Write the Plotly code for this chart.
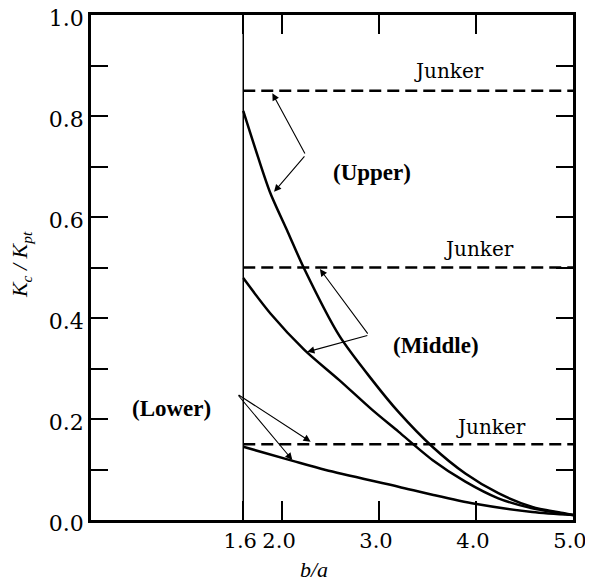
import plotly.graph_objects as go

# ---- data ----
upper_x = [1.6, 1.75, 1.88, 2.06, 2.23, 2.59, 2.93, 3.20, 3.55, 3.89, 4.23, 4.58, 4.92, 5.0]
upper_y = [0.81, 0.72, 0.647, 0.570, 0.497, 0.365, 0.277, 0.214, 0.145, 0.092, 0.053, 0.026, 0.013, 0.01]

middle_x = [1.6, 1.88, 2.23, 2.59, 2.93, 3.20, 3.55, 3.89, 4.23, 4.58, 4.92, 5.0]
middle_y = [0.479, 0.409, 0.337, 0.277, 0.218, 0.175, 0.119, 0.076, 0.043, 0.023, 0.012, 0.01]

lower_x = [1.6, 2.11, 2.45, 3.20, 3.55, 3.99, 4.58, 5.0]
lower_y = [0.145, 0.117, 0.099, 0.066, 0.050, 0.032, 0.016, 0.01]

junker_x = [1.6, 5.0]
junker_upper = 0.85
junker_middle = 0.50
junker_lower = 0.15

divider_x = 1.6
divider_y = [0.0, 1.0]

x_tickvals = [1.6, 2.0, 3.0, 4.0, 5.0]
x_ticktext = ["1.6", "2.0", "3.0", "4.0", "5.0"]
y_tickvals = [0.0, 0.2, 0.4, 0.6, 0.8, 1.0]
y_ticktext = ["0.0", "0.2", "0.4", "0.6", "0.8", "1.0"]

junker_label = "Junker"
junker_label_pos = [(3.726, 0.890), (4.027, 0.537), (4.151, 0.185)]

case_labels = ["(Upper)", "(Middle)", "(Lower)"]
case_label_pos = [(2.929, 0.688), (3.589, 0.3465), (0.863, 0.22)]

# arrows: (head x, head y, tail x, tail y)
arrows = [
    (1.90, 0.845, 2.244, 0.723),
    (1.918, 0.650, 2.244, 0.723),
    (2.39, 0.497, 2.895, 0.366),
    (2.26, 0.333, 2.895, 0.366),
    (2.295, 0.155, 1.537, 0.2495),
    (2.106, 0.119, 1.537, 0.2495),
]

fig = go.Figure()

fig.add_trace(go.Scatter(x=[divider_x, divider_x], y=divider_y, mode="lines",
                         line=dict(color="black", width=1.5), hoverinfo="skip"))

for xs, ys in [(upper_x, upper_y), (middle_x, middle_y), (lower_x, lower_y)]:
    fig.add_trace(go.Scatter(x=xs, y=ys, mode="lines",
                             line=dict(color="black", width=2.5, shape="spline", smoothing=0.8)))

for level in [junker_upper, junker_middle, junker_lower]:
    fig.add_trace(go.Scatter(x=junker_x, y=[level, level], mode="lines",
                             line=dict(color="black", width=2.5, dash="12px,6px")))

annotations = []
for (x, y) in junker_label_pos:
    annotations.append(dict(x=x, y=y, xref="x", yref="y", text=junker_label, showarrow=False,
                            font=dict(family="DejaVu Serif", size=20, color="black")))
for txt, (x, y) in zip(case_labels, case_label_pos):
    annotations.append(dict(x=x, y=y, xref="x", yref="y", text="<b>" + txt + "</b>", showarrow=False,
                            font=dict(family="Liberation Serif", size=23, color="black")))
for hx, hy, tx, ty in arrows:
    annotations.append(dict(x=hx, y=hy, ax=tx, ay=ty, xref="x", yref="y", axref="x", ayref="y",
                            text="", showarrow=True, arrowhead=2, arrowsize=1.3, arrowwidth=1.1,
                            arrowcolor="black", standoff=0))

annotations.append(dict(x=-0.145, y=0.505, xref="paper", yref="paper", xanchor="center", yanchor="middle",
                        text="<i>K<sub>c</sub> / K<sub>pt</sub></i>", textangle=-90, showarrow=False,
                        font=dict(family="Liberation Serif", size=22, color="black")))
annotations.append(dict(x=0.462, y=-0.099, xref="paper", yref="paper", xanchor="center", yanchor="middle",
                        text="<i>b/a</i>",
                        showarrow=False, font=dict(family="Liberation Serif", size=22, color="black")))

fig.update_layout(
    width=593, height=581,
    margin=dict(l=83, r=28, t=7, b=69),
    paper_bgcolor="white", plot_bgcolor="white",
    showlegend=False,
    annotations=annotations,
)

fig.update_xaxes(range=[0.03, 5.0], tickmode="array", tickvals=x_tickvals, ticktext=x_ticktext,
                 ticks="inside", ticklen=19, tickwidth=2, tickcolor="black",
                 showline=True, linewidth=2.5, linecolor="black", mirror="ticks",
                 showgrid=False, zeroline=False, automargin=False, ticklabeloverflow="allow",
                 ticklabelshift=-3,
                 tickfont=dict(family="DejaVu Serif", size=21, color="black"))
fig.update_yaxes(range=[0.0, 1.0], tickmode="array", tickvals=y_tickvals, ticktext=y_ticktext,
                 ticks="inside", ticklen=17, tickwidth=2, tickcolor="black",
                 minor=dict(dtick=0.1, tick0=0, ticks="inside", ticklen=17, tickwidth=2, tickcolor="black"),
                 showline=True, linewidth=2.5, linecolor="black", mirror="ticks",
                 showgrid=False, zeroline=False, automargin=False, ticklabeloverflow="allow",
                 ticklabelshift=3,
                 tickfont=dict(family="DejaVu Serif", size=22, color="black"))

fig.write_html("out.html")
